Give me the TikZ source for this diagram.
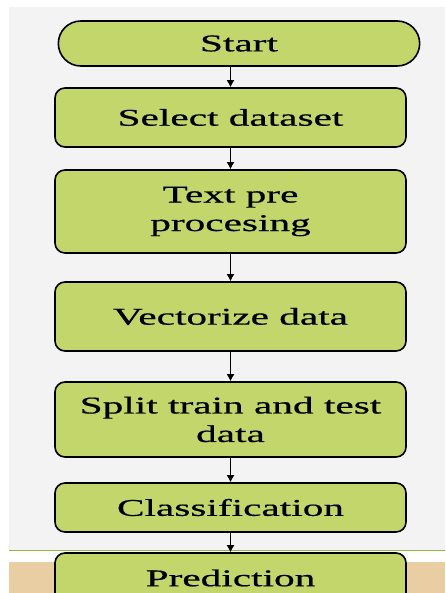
\documentclass[tikz,border=0pt]{standalone}
\usepackage{fontspec}
\setmainfont[FakeStretch=1.72,FakeBold=0.6]{Liberation Serif}
\usetikzlibrary{arrows.meta,shapes.misc,positioning}
\definecolor{boxgreen}{RGB}{195,214,107}
\definecolor{slidegray}{RGB}{243,243,243}
\definecolor{slideline}{RGB}{146,184,60}
\definecolor{slidetan}{RGB}{233,206,163}
\tikzstyle{format}=[rectangle,rounded corners=10pt,draw,line width=1.6pt,fill=boxgreen,minimum width=351pt,align=center,font=\fontsize{24pt}{28.5pt}\selectfont]
\tikzstyle{terminal}=[rounded rectangle,draw,line width=1.6pt,fill=boxgreen,minimum width=368pt,minimum height=45pt,font=\fontsize{24pt}{28.5pt}\selectfont]
\tikzstyle{link}=[line width=1.2pt,-{Latex[length=7pt,width=8pt]}]

\begin{document}
\begin{tikzpicture}[x=1pt,y=1pt]
  \useasboundingbox (0,0) rectangle (445,-593);
  \clip (0,0) rectangle (445,-593);
  % slide background
  \fill[white] (0,0) rectangle (445,-593);
  \fill[slidegray] (9,-7) rectangle (445,-551);
  \fill[slidetan] (9,-562) rectangle (445,-593);
  \draw[slideline,line width=1.5pt] (9,-550.5) -- (445,-550.5);
  % flow chart
  \node[terminal] (start) at (239,-43.5) {Start};
  \node[format,minimum height=59pt] (select) at (230.5,-117.5) {Select dataset};
  \node[format,below of=select,node distance=94pt,minimum height=83pt] (prepro) {Text pre\\procesing};
  \node[format,below of=prepro,node distance=105pt,minimum height=69pt] (vector) {Vectorize data};
  \node[format,below of=vector,node distance=103pt,minimum height=75pt] (split) {Split train and test\\data};
  \node[format,below of=split,node distance=88pt,minimum height=49pt] (classify) {Classification};
  \node[format,below of=classify,node distance=70.5pt,minimum height=50pt] (predict) {Prediction};
  \draw[link] (select|-start.south)--(select);
  \draw[link] (select)--(prepro);
  \draw[link] (prepro)--(vector);
  \draw[link] (vector)--(split);
  \draw[link] (split)--(classify);
  \draw[link] (classify)--(predict);
\end{tikzpicture}
\end{document}
